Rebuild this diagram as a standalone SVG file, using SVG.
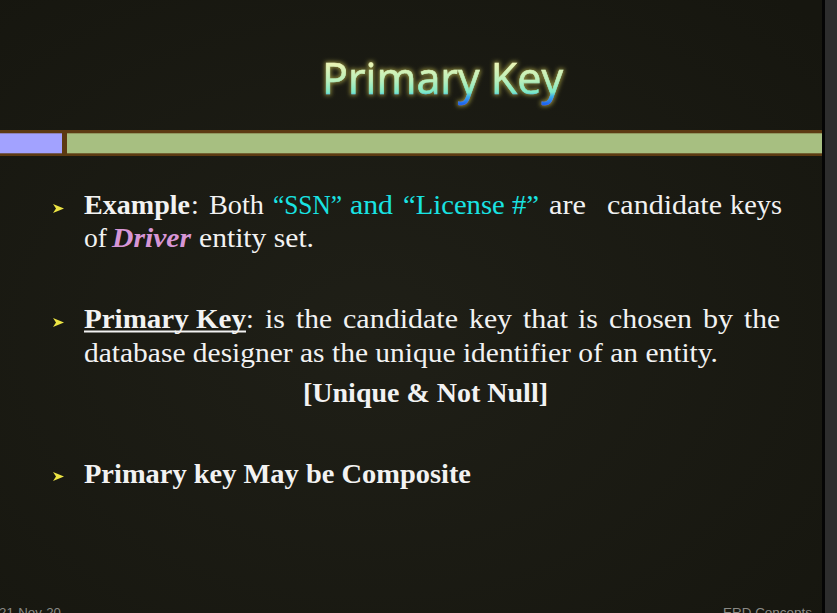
<svg xmlns="http://www.w3.org/2000/svg" width="837" height="613" viewBox="0 0 837 613">
  <defs>
    <radialGradient id="bgGrad" cx="0.45" cy="0.55" r="0.75">
      <stop offset="0" stop-color="#1f1f17"/>
      <stop offset="1" stop-color="#16160f"/>
    </radialGradient>
    <linearGradient id="titleGrad" gradientUnits="userSpaceOnUse" x1="0" y1="62" x2="0" y2="104">
      <stop offset="0" stop-color="#eef5b4"/>
      <stop offset="0.45" stop-color="#b8f0bc"/>
      <stop offset="0.72" stop-color="#7eeac6"/>
      <stop offset="0.82" stop-color="#3ab0ea"/>
      <stop offset="1" stop-color="#1c66f2"/>
    </linearGradient>
    <filter id="glow" x="-10%" y="-30%" width="120%" height="160%">
      <feMorphology in="SourceAlpha" operator="dilate" radius="0.8" result="d"/>
      <feGaussianBlur in="d" stdDeviation="2.2" result="b"/>
      <feFlood flood-color="#9a9640" flood-opacity="0.9"/>
      <feComposite in2="b" operator="in" result="g"/>
      <feMerge>
        <feMergeNode in="g"/>
        <feMergeNode in="SourceGraphic"/>
      </feMerge>
    </filter>
    <polygon id="bullet" points="0,0 11,4.5 0,9 3,4.5" fill="#ece444"/>
    <style>
      .body { font-family: "Liberation Serif", "Times New Roman", serif; font-size: 28px; fill: #f2f2f2; }
      .b { font-weight: bold; }
      .cy { fill: #19e3e3; }
      .pk { fill: #d796d6; font-weight: bold; font-style: italic; }
      .title { font-family: "Open Sans", "Noto Sans", sans-serif; font-size: 44px; fill: url(#titleGrad); stroke: url(#titleGrad); stroke-width: 0.6px; }
      .foot { font-family: "Liberation Sans", Arial, sans-serif; font-size: 13px; fill: #8a8a86; }
    </style>
  </defs>

  <!-- background -->
  <rect x="0" y="0" width="837" height="613" fill="#2d2d2d"/>
  <rect x="0" y="0" width="822" height="613" fill="url(#bgGrad)"/>
  <rect x="822" y="0" width="3" height="613" fill="#050505"/>

  <!-- title -->
  <g id="title">
    <text class="title" x="322" y="94" textLength="241" lengthAdjust="spacingAndGlyphs" filter="url(#glow)">Primary Key</text>
  </g>

  <!-- header bar -->
  <g id="bar">
    <rect x="0" y="130" width="822" height="26" fill="#5c3a12"/>
    <rect x="0" y="133.3" width="62" height="20" fill="#a2a2ff"/>
    <rect x="67" y="133.3" width="755" height="20" fill="#a7bf81"/>
  </g>

  <!-- bullet 1 -->
  <g id="bullet1">
    <use href="#bullet" x="53" y="204"/>
    <text class="body" y="214">
      <tspan class="b" x="84" textLength="106" lengthAdjust="spacingAndGlyphs">Example</tspan><tspan x="191">:</tspan>
      <tspan x="209" textLength="55" lengthAdjust="spacingAndGlyphs">Both</tspan>
      <tspan class="cy" x="273" textLength="69" lengthAdjust="spacingAndGlyphs">“SSN”</tspan>
      <tspan class="cy" x="350" textLength="43" lengthAdjust="spacingAndGlyphs">and</tspan>
      <tspan class="cy" x="403" textLength="136" lengthAdjust="spacingAndGlyphs">“License #”</tspan>
      <tspan x="549" textLength="37" lengthAdjust="spacingAndGlyphs">are</tspan>
      <tspan x="607" textLength="115" lengthAdjust="spacingAndGlyphs">candidate</tspan>
      <tspan x="730" textLength="52" lengthAdjust="spacingAndGlyphs">keys</tspan>
    </text>
    <text class="body" y="247">
      <tspan x="84" textLength="23" lengthAdjust="spacingAndGlyphs">of</tspan>
      <tspan class="pk" x="112" textLength="79" lengthAdjust="spacingAndGlyphs">Driver</tspan>
      <tspan x="199" textLength="115" lengthAdjust="spacingAndGlyphs">entity set.</tspan>
    </text>
  </g>

  <!-- bullet 2 -->
  <g id="bullet2">
    <use href="#bullet" x="53" y="318"/>
    <text class="body" y="328">
      <tspan class="b" x="84" textLength="162" lengthAdjust="spacingAndGlyphs">Primary Key</tspan><tspan x="246">:</tspan>
      <tspan x="265" textLength="20" lengthAdjust="spacingAndGlyphs">is</tspan>
      <tspan x="296" textLength="36" lengthAdjust="spacingAndGlyphs">the</tspan>
      <tspan x="343" textLength="115" lengthAdjust="spacingAndGlyphs">candidate</tspan>
      <tspan x="469" textLength="43" lengthAdjust="spacingAndGlyphs">key</tspan>
      <tspan x="523" textLength="45" lengthAdjust="spacingAndGlyphs">that</tspan>
      <tspan x="578" textLength="20" lengthAdjust="spacingAndGlyphs">is</tspan>
      <tspan x="609" textLength="83" lengthAdjust="spacingAndGlyphs">chosen</tspan>
      <tspan x="703" textLength="30" lengthAdjust="spacingAndGlyphs">by</tspan>
      <tspan x="744" textLength="36" lengthAdjust="spacingAndGlyphs">the</tspan>
    </text>
    <rect x="84" y="330.5" width="162" height="2" fill="#f2f2f2"/>
    <text class="body" x="84" y="362" textLength="634" lengthAdjust="spacingAndGlyphs">database designer as the unique identifier of an entity.</text>
    <text class="body b" x="303" y="402" textLength="245" lengthAdjust="spacingAndGlyphs">[Unique &amp; Not Null]</text>
  </g>

  <!-- bullet 3 -->
  <g id="bullet3">
    <use href="#bullet" x="53" y="472"/>
    <text class="body b" x="84" y="483" textLength="387" lengthAdjust="spacingAndGlyphs">Primary key May be Composite</text>
  </g>

  <!-- footer -->
  <g id="footer">
    <text class="foot" x="-1" y="617" textLength="62" lengthAdjust="spacingAndGlyphs">21-Nov-20</text>
    <text class="foot" x="723" y="617" textLength="89" lengthAdjust="spacingAndGlyphs">ERD Concepts</text>
  </g>
</svg>
